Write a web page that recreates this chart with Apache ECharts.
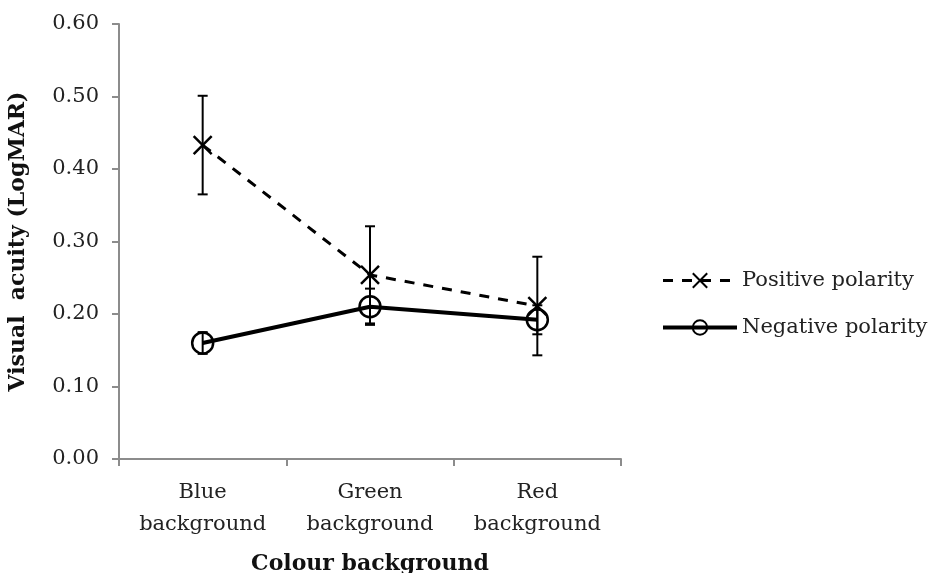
<!DOCTYPE html>
<html lang="en">
<head>
  <meta charset="UTF-8">
  <title>Visual acuity</title>
  <script src="https://cdn.jsdelivr.net/npm/echarts@6/dist/echarts.min.js"></script>
  <style>
    html, body { margin: 0; background: #fff; }
    #main { width: 938px; height: 573px; }
  </style>
</head>
<body>
  <div id="main"></div>
  <script>
    var categories = ['Blue\nbackground', 'Green\nbackground', 'Red\nbackground']
    var positive = [0.433, 0.254, 0.211]
    var positiveErr = [0.068, 0.067, 0.068]
    var negative = [0.160, 0.210, 0.192]
    var negativeErr = [0.015, 0.025, 0.02]

    var font = 'DejaVu Serif'
    var gray = '#8c8c8c'

    function errorSeries(values, errs) {
      return {
        type: 'custom',
        z: 1,
        silent: true,
        data: values.map((v, i) => [i, v - errs[i], v + errs[i]]),
        renderItem: function (params, api) {
          var lo = api.coord([api.value(0), api.value(1)])
          var hi = api.coord([api.value(0), api.value(2)])
          var w = 5
          var style = { stroke: '#000', lineWidth: 2 }
          return {
            type: 'group',
            children: [
              { type: 'line', shape: { x1: lo[0], y1: lo[1], x2: hi[0], y2: hi[1] }, style: style },
              { type: 'line', shape: { x1: lo[0] - w, y1: lo[1], x2: lo[0] + w, y2: lo[1] }, style: style },
              { type: 'line', shape: { x1: hi[0] - w, y1: hi[1], x2: hi[0] + w, y2: hi[1] }, style: style }
            ]
          }
        }
      }
    }

    var myChart = echarts.init(document.getElementById('main'))
    var option = {
      animation: false,
      grid: { left: 119, right: 317, top: 24, bottom: 114, outerBoundsMode: 'none' },
      legend: {
        orient: 'vertical',
        left: 656,
        top: 265,
        itemGap: 26,
        itemWidth: 74,
        itemHeight: 18,
        textStyle: { fontFamily: font, fontSize: 21, color: '#222' },
        data: [
          { name: 'Positive polarity', lineStyle: { width: 3 } },
          { name: 'Negative polarity', lineStyle: { width: 4 } }
        ]
      },
      xAxis: {
        type: 'category',
        data: categories,
        name: 'Colour background',
        nameLocation: 'middle',
        nameGap: 94,
        nameTextStyle: { fontFamily: font, fontSize: 22, fontWeight: 'bold', color: '#111' },
        axisLine: { lineStyle: { color: gray, width: 2 } },
        axisTick: { show: true, length: 7, lineStyle: { color: gray, width: 2 } },
        axisLabel: { fontFamily: font, fontSize: 21, color: '#222', margin: 18, lineHeight: 32 }
      },
      yAxis: {
        type: 'value',
        min: 0,
        max: 0.6,
        interval: 0.1,
        name: 'Visual  acuity (LogMAR)',
        nameLocation: 'middle',
        nameGap: 90,
        nameTextStyle: { fontFamily: font, fontSize: 22, fontWeight: 'bold', color: '#111' },
        axisLine: { show: true, lineStyle: { color: gray, width: 2 } },
        axisTick: { show: true, length: 7, lineStyle: { color: gray, width: 2 } },
        splitLine: { show: false },
        axisLabel: { fontFamily: font, fontSize: 21, color: '#222', margin: 20, formatter: v => v.toFixed(2) }
      },
      series: [
        {
          name: 'Positive polarity',
          type: 'line',
          z: 3,
          data: positive,
          symbol: 'path://M0,0L10,10M10,0L0,10',
          symbolSize: 18,
          itemStyle: { color: '#000', borderColor: '#000', borderWidth: 2.5 },
          lineStyle: { color: '#000', width: 3, type: [10, 9] }
        },
        {
          name: 'Negative polarity',
          type: 'line',
          z: 3,
          data: negative,
          symbol: 'circle',
          symbolSize: 21,
          itemStyle: { color: 'rgba(0,0,0,0)', borderColor: '#000', borderWidth: 2.5 },
          lineStyle: { color: '#000', width: 4 }
        },
        errorSeries(positive, positiveErr),
        errorSeries(negative, negativeErr)
      ]
    }
    myChart.setOption(option)
  </script>
</body>
</html>
